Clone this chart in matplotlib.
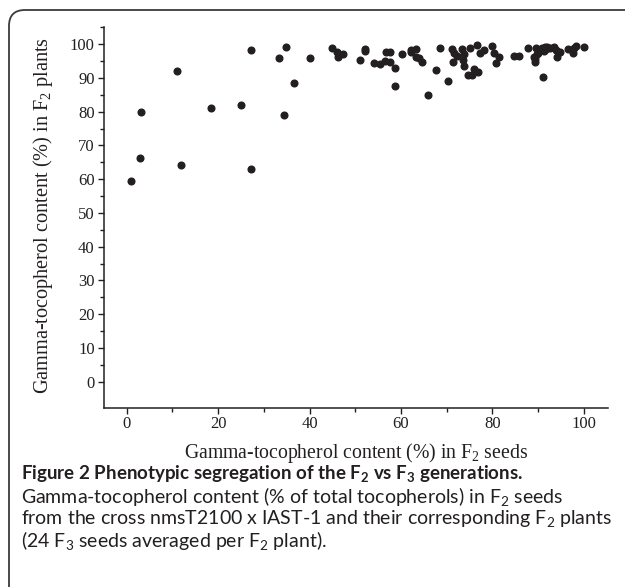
import numpy as np
import matplotlib
matplotlib.use("Agg")
import matplotlib.pyplot as plt
from matplotlib.patches import FancyBboxPatch
from matplotlib.ticker import MultipleLocator
from matplotlib.transforms import IdentityTransform

plt.rcParams['mathtext.default'] = 'regular'

# gamma-tocopherol (%) in F2 seeds vs F2 plants (mean of 24 F3 seeds)
seeds = [1.0, 2.8, 3.1, 11.1, 11.9, 18.4, 25.0, 27.1, 27.2, 33.4, 34.3, 34.8, 36.6, 40.0,
         44.9, 46.0, 46.3, 47.4, 51.0, 52.1, 52.2, 54.2, 55.4, 56.6, 56.8, 57.5, 57.6, 58.6,
         58.8, 60.3, 62.1, 62.2, 63.4, 63.3, 64.0, 64.5, 66.0, 67.7, 68.6, 70.2, 71.1, 71.4,
         71.7, 72.3, 73.4, 73.7, 73.6, 73.8, 74.6, 75.6, 75.2, 76.0, 76.7, 77.2, 76.9, 78.2,
         79.9, 80.4, 80.8, 81.5, 84.7, 85.9, 87.8, 89.5, 89.1, 89.3, 89.4, 89.8, 90.1, 91.1,
         90.8, 91.5, 91.9, 92.6, 91.3, 91.7, 93.6, 93.9, 94.3, 94.8, 94.2, 96.5, 97.6, 97.8,
         98.3, 100.0]
plants = [59.6, 66.4, 79.9, 92.2, 64.1, 81.0, 82.0, 63.0, 98.4, 96.0, 79.0, 99.2, 88.6, 96.0,
          99.0, 97.8, 96.2, 97.1, 95.4, 98.6, 98.0, 94.4, 94.1, 94.9, 97.8, 97.8, 94.6, 92.9,
          87.5, 97.1, 97.8, 98.3, 98.7, 96.1, 95.9, 94.7, 85.0, 92.4, 99.0, 89.2, 98.7, 94.8,
          97.3, 96.6, 98.7, 97.1, 95.3, 93.6, 91.0, 91.0, 99.0, 92.6, 99.7, 97.3, 91.7, 98.3,
          99.5, 97.4, 94.5, 96.3, 96.6, 96.6, 99.0, 99.0, 96.3, 95.5, 94.6, 97.1, 97.3, 90.2,
          99.0, 99.2, 99.2, 99.0, 98.0, 98.5, 99.2, 98.2, 97.8, 97.7, 96.3, 98.5, 97.5, 99.0,
          99.5, 99.2]

ink = '#231f20'
serif = 'Liberation Serif'
sans = 'Lato'

fig = plt.figure(figsize=(6.25, 5.87), dpi=100)

# rounded frame round the figure and caption (clipped on right and bottom)
frame = FancyBboxPatch((9, -40), 700, 577 + 40, boxstyle="round,pad=0,rounding_size=16",
                       transform=IdentityTransform(), fill=False, edgecolor='#3a3a3a', lw=1.3)
fig.patches.append(frame)

ax = fig.add_axes([0.167, 0.305, 0.805, 0.649])
ax.plot(seeds, plants, 'o', color=ink, ms=4.8, mec=ink)

ax.set_xlim(-4.9, 105.2)
ax.set_ylim(-7.8, 105.1)
ax.xaxis.set_major_locator(MultipleLocator(20))
ax.xaxis.set_minor_locator(MultipleLocator(10))
ax.set_yticks(np.arange(0, 101, 10))
ax.set_yticks(np.arange(5, 106, 10), minor=True)
ax.spines['top'].set_visible(False)
ax.spines['right'].set_visible(False)
for s in ['left', 'bottom']:
    ax.spines[s].set_linewidth(1.1)
    ax.spines[s].set_color(ink)
ax.tick_params(which='major', direction='out', length=4.5, width=1.0, colors=ink,
               labelsize=12)
ax.tick_params(which='minor', direction='out', length=2.8, width=1.0, colors=ink)
for lab in ax.get_xticklabels() + ax.get_yticklabels():
    lab.set_family(serif)
ax.tick_params(axis='x', pad=1.5)
ax.tick_params(axis='y', pad=2.5)

ax.set_xlabel('Gamma-tocopherol content (%) in F$_2$ seeds', family=serif, fontsize=14.2,
              color=ink, va='center')
ax.xaxis.set_label_coords(0.5, -0.119)
ax.set_ylabel('Gamma-tocopherol content (%) in F$_2$ plants', family=serif, fontsize=14.6,
              color=ink, va='center')
ax.yaxis.set_label_coords(-0.122, 0.505)

# caption
fig.text(21 / 625, 1 - 474 / 587, 'Figure 2 Phenotypic segregation of the F$_2$ vs F$_3$ generations.',
         family=sans, fontweight='bold', fontsize=13.5, color=ink, va='center')
body = ['Gamma-tocopherol content (% of total tocopherols) in F$_2$ seeds',
        'from the cross nmsT2100 x IAST-1 and their corresponding F$_2$ plants',
        '(24 F$_3$ seeds averaged per F$_2$ plant).']
for i, line in enumerate(body):
    fig.text(21 / 625, 1 - (497 + 21.5 * i) / 587, line, family=sans, fontsize=14,
             color=ink, va='center')

fig.savefig('out.png', dpi=100)
